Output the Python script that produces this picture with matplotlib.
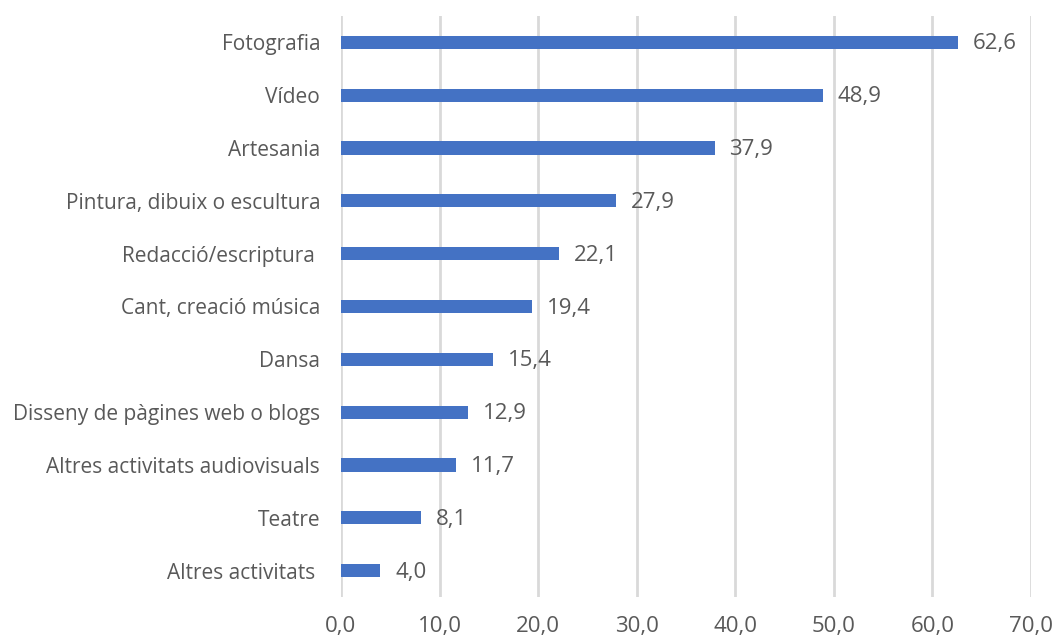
import matplotlib
matplotlib.use('Agg')
import matplotlib.pyplot as plt

categories = ['Fotografia', 'Vídeo', 'Artesania', 'Pintura, dibuix o escultura',
              'Redacció/escriptura ', 'Cant, creació música', 'Dansa',
              'Disseny de pàgines web o blogs', 'Altres activitats audiovisuals',
              'Teatre', 'Altres activitats ']
values = [62.6, 48.9, 37.9, 27.9, 22.1, 19.4, 15.4, 12.9, 11.7, 8.1, 4.0]
xticks = [0, 10, 20, 30, 40, 50, 60, 70]

txt = '#595959'
plt.rcParams['font.family'] = ['Open Sans', 'DejaVu Sans']

fig = plt.figure(figsize=(10.55, 6.39), dpi=100)
ax = fig.add_axes([0.3232, 0.0657, 0.6541, 0.9093])

ypos = list(range(len(categories)))[::-1]
ax.barh(ypos, values, height=0.25, color='#4472C4', zorder=3)
for y, v in zip(ypos, values):
    ax.text(v + 1.5, y - 0.03, f'{v:.1f}'.replace('.', ','), va='center', ha='left',
            fontsize=16, color=txt)

ax.set_ylim(-0.5, len(categories) - 0.5)
ax.set_xlim(0, 70)
ax.set_xticks(xticks)
ax.set_xticklabels([f'{t:.1f}'.replace('.', ',') for t in xticks])
ax.set_yticks(ypos)
ax.set_yticklabels(categories)
ax.tick_params(axis='both', length=0, colors=txt)
ax.tick_params(axis='x', pad=14, labelsize=16)
ax.tick_params(axis='y', pad=15, labelsize=15)
ax.grid(axis='x', color='#D9D9D9', linewidth=2, zorder=0)
for s in ax.spines.values():
    s.set_visible(False)

fig.savefig('out.png', dpi=100)
